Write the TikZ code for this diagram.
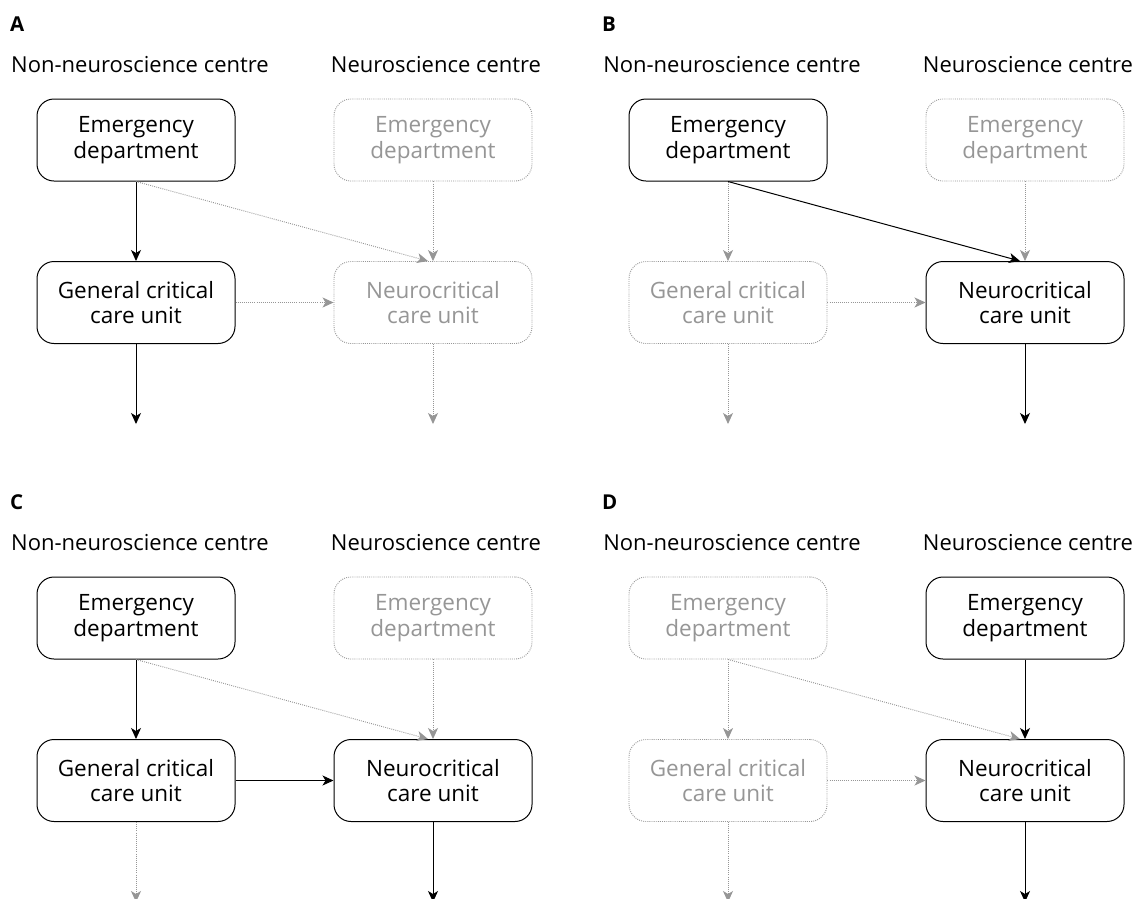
\documentclass[tikz,border=0pt]{standalone}
\usepackage{fontspec}
\setmainfont{Open Sans}
\usetikzlibrary{arrows.meta}
\definecolor{greyc}{RGB}{150,150,150}
\tikzset{
  unitbox/.style={rounded corners=17pt, minimum width=198pt, minimum height=82pt,
    align=center, inner sep=0pt, line width=1pt,
    font=\fontsize{22.5}{25.5}\selectfont},
  onbox/.style={unitbox, draw=black, text=black},
  offbox/.style={unitbox, draw=greyc, text=greyc, line width=0.9pt, dash pattern=on 0.9pt off 1.2pt},
  onarr/.style={draw=black, line width=1pt, -{Stealth[length=11pt,width=10pt,inset=3pt]}},
  offarr/.style={draw=greyc, line width=0.9pt, dash pattern=on 0.9pt off 1.2pt,
    -{Stealth[length=11pt,width=10pt,inset=3pt,sep=0pt]}},
  panellbl/.style={anchor=west, inner sep=0pt, font=\fontsize{20.5}{22}\selectfont\bfseries},
  collbl/.style={anchor=base, inner sep=0pt, font=\fontsize{22}{25}\selectfont},
}
\begin{document}
\begin{tikzpicture}[x=1pt,y=-1pt]
\useasboundingbox (0,0) rectangle (1137,898);
\fill[white] (0,0) rectangle (1137,898);

% ---------------- Panel A ----------------
\begin{scope}[shift={(0,0)}]
\node[panellbl] (aL) at (10,24) {A};
\node[collbl] (aC1) at (140,72) {Non-neuroscience centre};
\node[collbl] (aC2) at (436,72) {Neuroscience centre};
\node[onbox] (aED) at (136,140) {Emergency\\department};
\node[offbox] (aNED) at (433,140) {Emergency\\department};
\node[onbox] (aGC) at (136,302.5) {General critical\\care unit};
\node[offbox] (aNC) at (433,302.5) {Neurocritical\\care unit};
\coordinate (aX1) at (136,424);
\coordinate (aX2) at (433,424);
\draw[offarr] (aED.south) -- ([xshift=-5pt]aNC.north);
\draw[offarr] (aNED) -- (aNC);
\draw[offarr] (aGC) -- (aNC);
\draw[offarr] (aNC) -- (aX2);
\draw[onarr] (aED) -- (aGC);
\draw[onarr] (aGC) -- (aX1);
\end{scope}

% ---------------- Panel B ----------------
\begin{scope}[shift={(592,0)}]
\node[panellbl] (bL) at (10,24) {B};
\node[collbl] (bC1) at (140,72) {Non-neuroscience centre};
\node[collbl] (bC2) at (436,72) {Neuroscience centre};
\node[onbox] (bED) at (136,140) {Emergency\\department};
\node[offbox] (bNED) at (433,140) {Emergency\\department};
\node[offbox] (bGC) at (136,302.5) {General critical\\care unit};
\node[onbox] (bNC) at (433,302.5) {Neurocritical\\care unit};
\coordinate (bX1) at (136,424);
\coordinate (bX2) at (433,424);
\draw[offarr] (bED) -- (bGC);
\draw[offarr] (bNED) -- (bNC);
\draw[offarr] (bGC) -- (bNC);
\draw[offarr] (bGC) -- (bX1);
\draw[onarr] (bED.south) -- ([xshift=-5pt]bNC.north);
\draw[onarr] (bNC) -- (bX2);
\end{scope}

% ---------------- Panel C ----------------
\begin{scope}[shift={(0,478)}]
\node[panellbl] (cL) at (10,24) {C};
\node[collbl] (cC1) at (140,72) {Non-neuroscience centre};
\node[collbl] (cC2) at (436,72) {Neuroscience centre};
\node[onbox] (cED) at (136,140) {Emergency\\department};
\node[offbox] (cNED) at (433,140) {Emergency\\department};
\node[onbox] (cGC) at (136,302.5) {General critical\\care unit};
\node[onbox] (cNC) at (433,302.5) {Neurocritical\\care unit};
\coordinate (cX1) at (136,424);
\coordinate (cX2) at (433,424);
\draw[offarr] (cED.south) -- ([xshift=-5pt]cNC.north);
\draw[offarr] (cNED) -- (cNC);
\draw[offarr] (cGC) -- (cX1);
\draw[onarr] (cED) -- (cGC);
\draw[onarr] (cGC) -- (cNC);
\draw[onarr] (cNC) -- (cX2);
\end{scope}

% ---------------- Panel D ----------------
\begin{scope}[shift={(592,478)}]
\node[panellbl] (dL) at (10,24) {D};
\node[collbl] (dC1) at (140,72) {Non-neuroscience centre};
\node[collbl] (dC2) at (436,72) {Neuroscience centre};
\node[offbox] (dED) at (136,140) {Emergency\\department};
\node[onbox] (dNED) at (433,140) {Emergency\\department};
\node[offbox] (dGC) at (136,302.5) {General critical\\care unit};
\node[onbox] (dNC) at (433,302.5) {Neurocritical\\care unit};
\coordinate (dX1) at (136,424);
\coordinate (dX2) at (433,424);
\draw[offarr] (dED) -- (dGC);
\draw[offarr] (dED.south) -- ([xshift=-5pt]dNC.north);
\draw[offarr] (dGC) -- (dNC);
\draw[offarr] (dGC) -- (dX1);
\draw[onarr] (dNED) -- (dNC);
\draw[onarr] (dNC) -- (dX2);
\end{scope}
\end{tikzpicture}
\end{document}
